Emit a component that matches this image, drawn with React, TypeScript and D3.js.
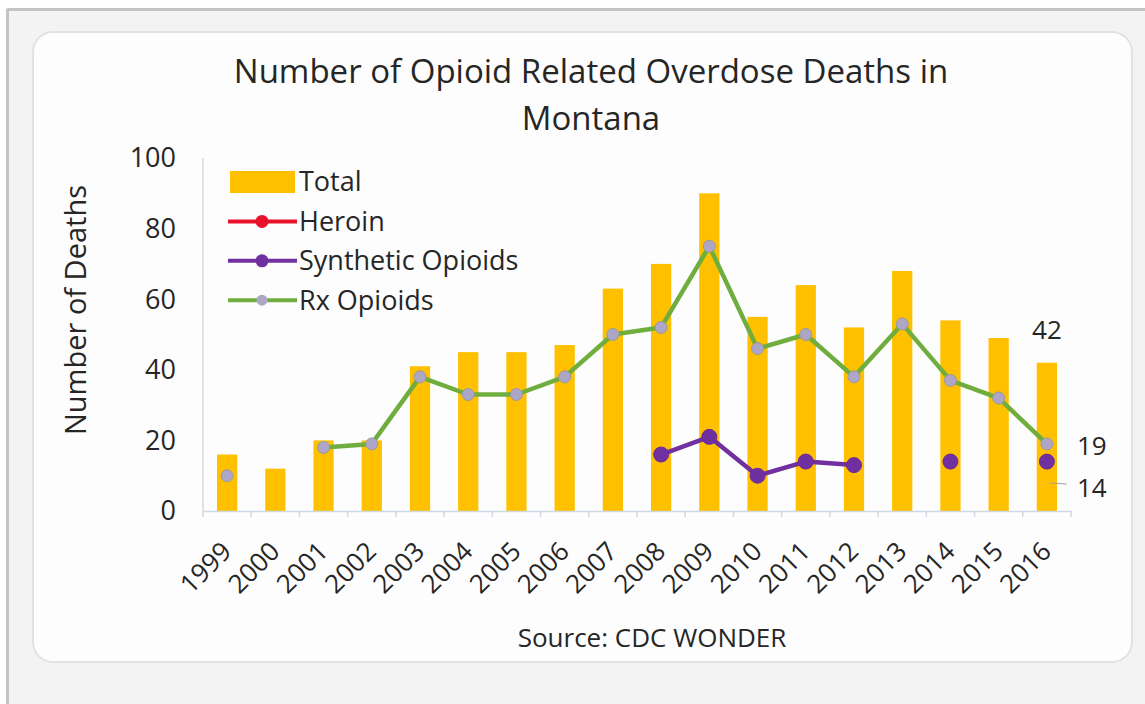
import React from "react";
import * as d3 from "d3";

const years = ["1999","2000","2001","2002","2003","2004","2005","2006","2007","2008","2009","2010","2011","2012","2013","2014","2015","2016"];
const total = [16, 12, 20, 20, 41, 45, 45, 47, 63, 70, 90, 55, 64, 52, 68, 54, 49, 42];
const rx: (number | null)[] = [10, null, 18, 19, 38, 33, 33, 38, 50, 52, 75, 46, 50, 38, 53, 37, 32, 19];
const synthetic: (number | null)[] = [null, null, null, null, null, null, null, null, null, 16, 21, 10, 14, 13, null, 14, null, 14];
const heroin: (number | null)[] = years.map(() => null);
const yTicks = [0, 20, 40, 60, 80, 100];
const legendItems = ["Total", "Heroin", "Synthetic Opioids", "Rx Opioids"];

const FONT = "'Open Sans', Lato, sans-serif";
const GOLD = "#FFC000";
const GREEN = "#6FAE3E";
const PURPLE = "#7030A0";
const RED = "#E8102A";
const MARKER_GRAY = "#ADA6C6";
const TEXT = "#262626";

export default function App() {
  const W = 1145, H = 704;
  const x = d3.scaleBand<string>().domain(years).range([203, 1071]).paddingInner(0.58).paddingOuter(0.29);
  const y = d3.scaleLinear().domain([0, 100]).range([511, 158]);
  const cx = (yr: string) => (x(yr) as number) + x.bandwidth() / 2;

  const line = d3.line<number | null>()
    .defined((d) => d !== null)
    .x((_, i) => cx(years[i]))
    .y((d) => y(d as number));

  const step = x.step();
  const boundaries = d3.range(years.length + 1).map((i) => 203 + i * step);
  const last = years[years.length - 1];

  return (
    <svg width={W} height={H} style={{ position: "absolute", left: 0, top: 0, display: "block" }}>
      <rect x={0} y={0} width={W} height={H} fill="#ffffff" />
      <rect x={7} y={9} width={W - 7} height={H - 9} fill="#f3f3f3" />
      <line x1={7} y1={9.5} x2={W} y2={9.5} stroke="#c4c4c4" strokeWidth={3} />
      <line x1={7.5} y1={9} x2={7.5} y2={H} stroke="#c4c4c4" strokeWidth={3} />
      <rect x={33} y={32} width={1099} height={630} rx={20} ry={20} fill="#fdfdfd" stroke="#e2e2e2" strokeWidth={2} />

      {/* Title */}
      <text x={591} y={83} textAnchor="middle" fontFamily={FONT} fontSize={33} fill={TEXT}>
        Number of Opioid Related Overdose Deaths in
      </text>
      <text x={591} y={130} textAnchor="middle" fontFamily={FONT} fontSize={33} fill={TEXT}>
        Montana
      </text>

      {/* Y axis */}
      <line x1={203} y1={y(100)} x2={203} y2={y(0)} stroke="#d9d9d9" strokeWidth={1.5} />
      {yTicks.map((t) => (
        <text key={t} x={176} y={y(t)} dy="0.35em" textAnchor="end" fontFamily={FONT} fontSize={27} fill={TEXT}>
          {t}
        </text>
      ))}
      <text transform="translate(86,310) rotate(-90)" textAnchor="middle" fontFamily={FONT} fontSize={29} fill={TEXT}>
        Number of Deaths
      </text>

      {/* Bars */}
      {years.map((yr, i) => (
        <rect key={yr} x={x(yr)} y={y(total[i])} width={x.bandwidth()} height={y(0) - y(total[i])} fill={GOLD} />
      ))}

      {/* X axis */}
      <line x1={203} y1={511.5} x2={1071} y2={511.5} stroke="#cfd8e6" strokeWidth={1.5} />
      {boundaries.map((b, i) => (
        <line key={i} x1={b} y1={511} x2={b} y2={517} stroke="#cfd8e6" strokeWidth={1.5} />
      ))}
      {years.map((yr) => (
        <text key={yr} transform={`translate(${cx(yr) + 6},${553}) rotate(-45)`} textAnchor="end" fontFamily={FONT} fontSize={26} fill={TEXT}>
          {yr}
        </text>
      ))}

      {/* Heroin (no data) */}
      <path d={line(heroin) || ""} fill="none" stroke={RED} strokeWidth={4} />

      {/* Rx Opioids */}
      <path d={line(rx) || ""} fill="none" stroke={GREEN} strokeWidth={4.5} strokeLinejoin="round" />
      {rx.map((v, i) => v === null ? null : (
        <circle key={i} cx={cx(years[i])} cy={y(v)} r={6} fill={MARKER_GRAY} stroke="#9a9a9a" strokeWidth={1} />
      ))}

      {/* Synthetic */}
      <path d={line(synthetic) || ""} fill="none" stroke={PURPLE} strokeWidth={4.5} strokeLinejoin="round" />
      {synthetic.map((v, i) => v === null ? null : (
        <circle key={i} cx={cx(years[i])} cy={y(v)} r={7.5} fill={PURPLE} stroke="#6a2a9a" strokeWidth={1} />
      ))}

      {/* Data labels */}
      <text x={cx(last)} y={y(total[total.length - 1]) - 24} textAnchor="middle" fontFamily={FONT} fontSize={26} fill={TEXT}>
        {total[total.length - 1]}
      </text>
      <text x={cx(last) + 30} y={y(rx[rx.length - 1] as number) + 11} fontFamily={FONT} fontSize={26} fill={TEXT}>
        {rx[rx.length - 1]}
      </text>
      <line x1={cx(last) + 3} y1={483} x2={cx(last) + 20} y2={484} stroke="#a0a0a0" strokeWidth={1} />
      <text x={cx(last) + 30} y={y(synthetic[synthetic.length - 1] as number) + 35} fontFamily={FONT} fontSize={26} fill={TEXT}>
        {synthetic[synthetic.length - 1]}
      </text>

      {/* Legend */}
      {legendItems.map((name, i) => {
        const ly = 182 + i * 39.4;
        const color = [GOLD, RED, PURPLE, GREEN][i];
        return (
          <g key={name}>
            {i === 0 ? (
              <rect x={230} y={ly - 11} width={65} height={22} fill={GOLD} />
            ) : (
              <g>
                <line x1={228} y1={ly} x2={297} y2={ly} stroke={color} strokeWidth={4} />
                <circle cx={262} cy={ly} r={i === 3 ? 5.5 : 6.5} fill={i === 3 ? MARKER_GRAY : color} />
              </g>
            )}
            <text x={299} y={ly} dy="0.35em" fontFamily={FONT} fontSize={27} fill={TEXT}>
              {name}
            </text>
          </g>
        );
      })}

      {/* Source */}
      <text x={652} y={647} textAnchor="middle" fontFamily={FONT} fontSize={26} fill={TEXT}>
        Source: CDC WONDER
      </text>
    </svg>
  );
}
